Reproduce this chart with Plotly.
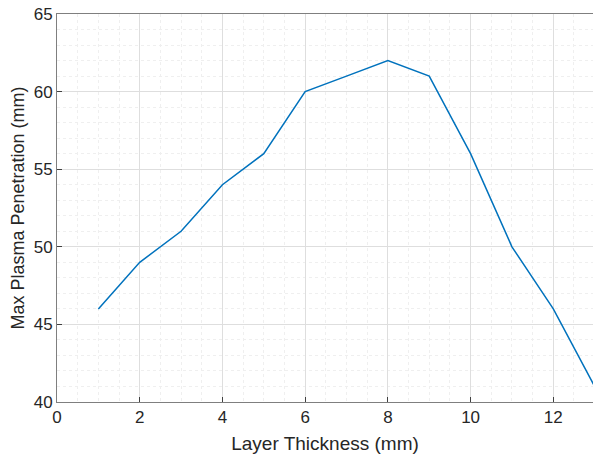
import plotly.graph_objects as go

layer_thickness = [1, 2, 3, 4, 5, 6, 7, 8, 9, 10, 11, 12, 13]
max_penetration = [46, 49, 51, 54, 56, 60, 61, 62, 61, 56, 50, 46, 41]

fig = go.Figure()
fig.add_trace(go.Scatter(x=layer_thickness, y=max_penetration, mode="lines",
                         line=dict(color="#0072BD", width=1.5), showlegend=False))

axis_common = dict(
    showline=True, linecolor="#7f7f7f", linewidth=1, mirror=True,
    ticks="inside", ticklen=5, tickcolor="#404040",
    showgrid=True, gridcolor="#dedede", gridwidth=1,
    tickfont=dict(family="Liberation Sans, Arial", size=17, color="#262626"),
    zeroline=False,
)

fig.update_xaxes(range=[0, 12.96], dtick=2, tick0=0,
                 minor=dict(dtick=0.5, showgrid=True, gridcolor="#efefef", griddash="dot", ticks=""),
                 title=dict(text="Layer Thickness (mm)", standoff=10,
                            font=dict(family="Liberation Sans, Arial", size=19, color="#262626")),
                 **axis_common)
fig.update_yaxes(range=[40, 65], dtick=5, tick0=40,
                 minor=dict(dtick=1, showgrid=True, gridcolor="#efefef", griddash="dot", ticks=""),
                 title=dict(text="Max Plasma Penetration (mm)", standoff=4,
                            font=dict(family="Liberation Sans, Arial", size=18, color="#262626")),
                 **axis_common)

fig.update_layout(width=593, height=457, margin=dict(l=57, r=0, t=14, b=55),
                  plot_bgcolor="white", paper_bgcolor="white")

fig.write_html("out.html")
